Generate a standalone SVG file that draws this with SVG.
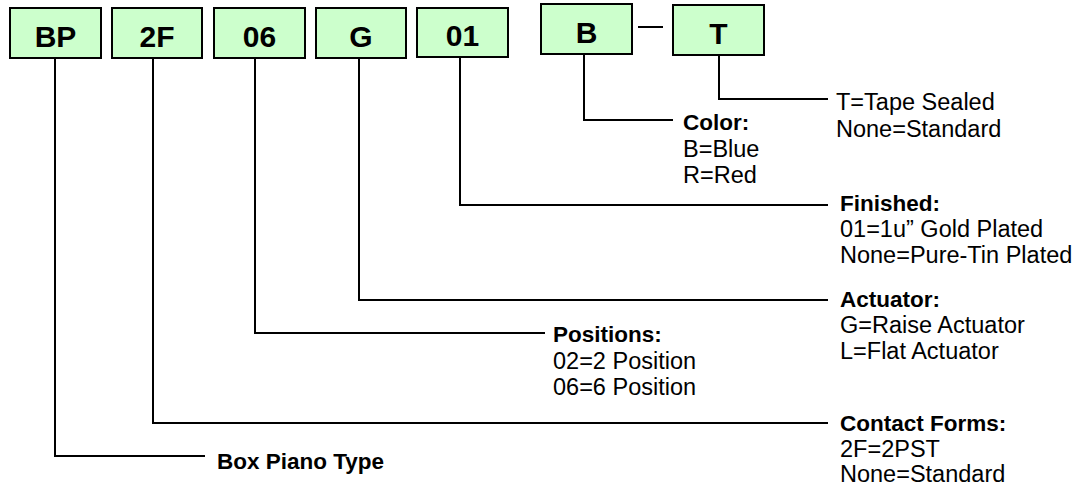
<svg xmlns="http://www.w3.org/2000/svg" width="1077" height="484" viewBox="0 0 1077 484">
<style>
.box{fill:#ccffcc;stroke:#000;stroke-width:2}
.bt{font-family:"Liberation Sans",Arial,sans-serif;font-weight:bold;font-size:30px;text-anchor:middle;fill:#000}
.ln{fill:none;stroke:#000;stroke-width:2}
.h{font-family:"Liberation Sans",Arial,sans-serif;font-weight:bold;font-size:22.5px;fill:#000}
.t{font-family:"Liberation Sans",Arial,sans-serif;font-size:23.5px;fill:#000}
</style>
<rect width="1077" height="484" fill="#fff"/>
<g id="node-bp"><rect class="box" x="10" y="8" width="91" height="50"/><text class="bt" x="55.5" y="47">BP</text></g>
<g id="node-2f"><rect class="box" x="112" y="8" width="90" height="50"/><text class="bt" x="157" y="47">2F</text></g>
<g id="node-06"><rect class="box" x="214" y="8" width="91" height="50"/><text class="bt" x="259.5" y="47">06</text></g>
<g id="node-g"><rect class="box" x="316" y="8" width="90" height="50"/><text class="bt" x="361" y="47">G</text></g>
<g id="node-01"><rect class="box" x="417" y="8" width="91" height="49"/><text class="bt" x="462.5" y="46">01</text></g>
<g id="node-b"><rect class="box" x="541" y="4" width="91" height="50"/><text class="bt" x="586.5" y="43">B</text></g>
<g id="node-t"><rect class="box" x="673" y="5" width="91" height="50"/><text class="bt" x="718.5" y="44">T</text></g>
<g id="connectors">
<line class="ln" x1="638" y1="27" x2="663" y2="27"/>
<polyline class="ln" points="719,55 719,99 828,99"/>
<polyline class="ln" points="584,54 584,120 673,120"/>
<polyline class="ln" points="460,57 460,205 828,205"/>
<polyline class="ln" points="359,58 359,300 828,300"/>
<polyline class="ln" points="255,58 255,333 545,333"/>
<polyline class="ln" points="153,58 153,423 828,423"/>
<polyline class="ln" points="55,58 55,456 205,456"/>
</g>
<g id="label-t"><text class="t" x="836" y="110">T=Tape Sealed</text><text class="t" x="836" y="137">None=Standard</text></g>
<g id="label-color"><text class="h" x="683" y="130">Color:</text><text class="t" x="683" y="157">B=Blue</text><text class="t" x="683" y="183">R=Red</text></g>
<g id="label-finished"><text class="h" x="840" y="211">Finished:</text><text class="t" x="840" y="237">01=1u” Gold Plated</text><text class="t" x="840" y="263">None=Pure-Tin Plated</text></g>
<g id="label-actuator"><text class="h" x="840" y="307">Actuator:</text><text class="t" x="840" y="333">G=Raise Actuator</text><text class="t" x="840" y="359">L=Flat Actuator</text></g>
<g id="label-positions"><text class="h" x="553" y="342">Positions:</text><text class="t" x="553" y="369">02=2 Position</text><text class="t" x="553" y="395">06=6 Position</text></g>
<g id="label-contact"><text class="h" x="840" y="431">Contact Forms:</text><text class="t" x="840" y="457">2F=2PST</text><text class="t" x="840" y="482">None=Standard</text></g>
<g id="label-bp"><text class="h" x="217" y="469">Box Piano Type</text></g>
</svg>
